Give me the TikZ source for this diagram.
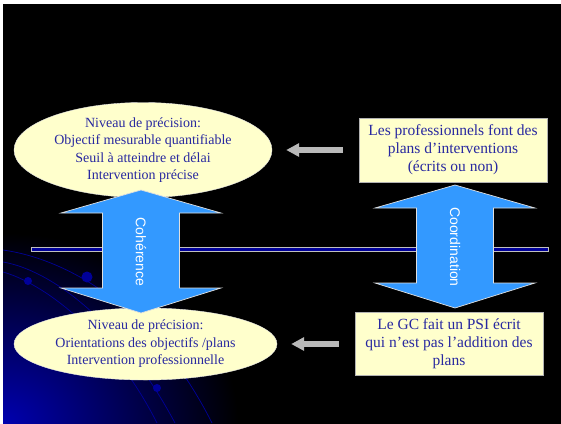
\documentclass[tikz,border=0pt]{standalone}
\usepackage{fontspec}
\setmainfont{Liberation Serif}
\setsansfont{Liberation Sans}
\usepackage{tikz}
\usetikzlibrary{arrows.meta}
\usetikzlibrary{shapes.geometric}

\definecolor{paper}{RGB}{255,255,204}
\definecolor{ink}{RGB}{40,40,160}
\definecolor{sky}{RGB}{51,153,255}
\definecolor{navy}{RGB}{0,0,153}
\definecolor{deep}{RGB}{0,0,175}

\begin{document}
\begin{tikzpicture}[x=1pt,y=-1pt]
		\tikzset{bubble/.style = {shape=ellipse,draw=white!80!gray,line width=0.4pt,fill=paper,text=ink,inner sep=0pt,align=center,font=\fontsize{14}{17.5}\selectfont}}
		\tikzset{card/.style = {shape=rectangle,draw=gray!60,line width=0.8pt,fill=paper,text=ink,inner sep=0pt,align=center,minimum width=188pt,font=\fontsize{15.5}{18}\selectfont}}
		\tikzset{pointer/.style = {draw=gray!55,line width=6pt,-{Triangle[length=13pt,width=13pt]},shorten >=14pt,shorten <=16pt}}
		\tikzset{bigarrow/.style = {draw=white!75!gray,line width=0.7pt,fill=sky}}
		\tikzset{tag/.style = {text=white,font=\sffamily\fontsize{14}{16}\selectfont,rotate=-90}}
		\tikzset{swirl/.style = {draw=navy,line width=0.7pt}}
			\useasboundingbox (0,0) rectangle (561,423);
			\fill[white] (0,0) rectangle (561,423);
			\fill[black] (3,4) rectangle (565,430);
			\begin{scope}
				\clip (3,4) rectangle (565,430);
				\shade[inner color=deep,outer color=black] (3,423) ellipse (235 and 190);
				\draw[swirl] (3,250) .. controls (60,258) and (150,300) .. (212,423);
				\draw[swirl] (3,262) .. controls (50,270) and (120,320) .. (175,423);
				\draw[swirl] (3,272) .. controls (40,282) and (110,330) .. (157,423);
				\fill[navy] (87,277) circle (5.5);
				\fill[navy] (28,281) circle (4);
				\fill[navy] (157,388) circle (4);
			\end{scope}
			\draw[draw=gray!50,fill=navy,line width=0.8pt] (31,247) rectangle (548,251);
			\node[bubble,minimum width=258pt,minimum height=95pt] (precis) at (143,150) {Niveau de précision:\\Objectif mesurable quantifiable\\Seuil à atteindre et délai\\Intervention précise};
			\node[bubble,minimum width=263pt,minimum height=72pt] (oriente) at (145.5,344) {Niveau de précision:\\Orientations des objectifs /plans\\Intervention professionnelle};
			\node[card,minimum height=64pt] (plans) at (453,150) {Les professionnels font des\\plans d’interventions\\(écrits ou non)};
			\node[card,minimum height=63pt] (psi) at (449,344) {Le GC fait un PSI écrit\\qui n’est pas l’addition des\\plans};
			\draw[pointer] (plans) -- (precis);
			\draw[pointer] (psi) -- (oriente);
			\draw[bigarrow] (141,190) -- (221,213) -- (179.5,213) -- (179.5,288) -- (221,288) -- (141,313) -- (61,288) -- (102.5,288) -- (102.5,213) -- (61,213) -- cycle;
			\draw[bigarrow] (455,185) -- (535,208) -- (493.5,208) -- (493.5,283) -- (535,283) -- (455,308) -- (375,283) -- (416.5,283) -- (416.5,208) -- (375,208) -- cycle;
			\node[tag] (coherence) at (141,252) {Cohérence};
			\node[tag] (coordination) at (455,247) {Coordination};
\end{tikzpicture}
\end{document}
